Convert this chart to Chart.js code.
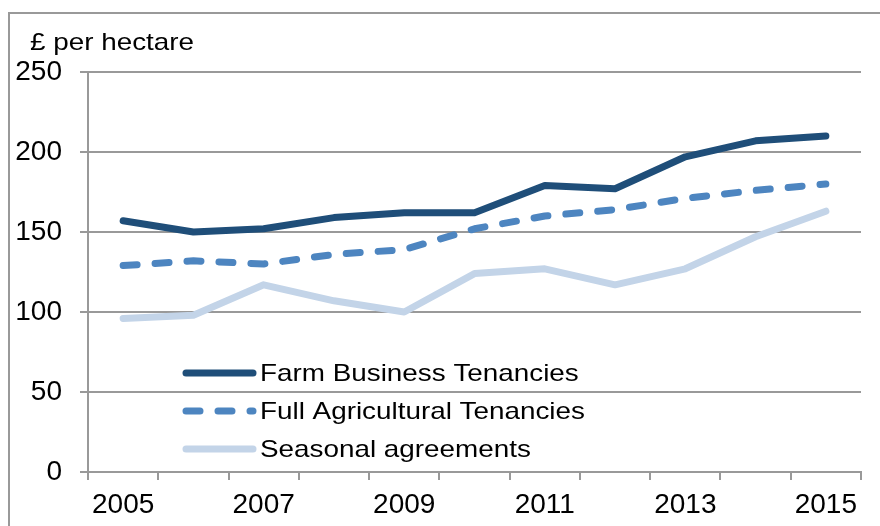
<!DOCTYPE html>
<html>
<head>
<meta charset="utf-8">
<script src="https://cdn.jsdelivr.net/npm/chart.js@4"></script>
<style>
  html, body { margin: 0; padding: 0; background: #fff; }
  #wrap { position: relative; width: 880px; height: 526px; overflow: hidden; }
  #frame { position: absolute; left: 8px; top: 12px; width: 900px; height: 600px;
           border-top: 2px solid #999; border-left: 2px solid #999; }
  #c { position: absolute; left: 0; top: 0; }
</style>
</head>
<body>
<div id="wrap">
  <div id="frame"></div>
  <canvas id="c" width="880" height="526"></canvas>
</div>
<script>
// years on the x axis (only every other one gets a label)
const years = ["2005","2006","2007","2008","2009","2010","2011","2012","2013","2014","2015"]

// £ per hectare
const farm_business = [157, 150, 152, 159, 162, 162, 179, 177, 197, 207, 210]
const full_agricultural = [129, 132, 130, 136, 139, 152, 160, 164, 171, 176, 180]
const seasonal = [96, 98, 117, 107, 100, 124, 127, 117, 127, 147, 163]

const series_names = ["Farm Business Tenancies", "Full Agricultural Tenancies", "Seasonal agreements"]
const y_ticks = [0, 50, 100, 150, 200, 250]

const font_name = "'Liberation Sans', Arial, sans-serif"
const grid_col = "#999999"

// text in the source is a bit wider than normal Arial
function wide_text(ctx, txt, x, y, stretch){
    ctx.save()
    ctx.translate(x, y)
    ctx.scale(stretch, 1)
    ctx.fillText(txt, 0, 0)
    ctx.restore()
}

// draws the "£ per hectare" unit and the in-plot legend
const extras = {
    id: "extras",
    afterDraw(chart){
        const ctx = chart.ctx
        ctx.save()
        ctx.fillStyle = "#000"
        ctx.font = "24px " + font_name
        ctx.textBaseline = "middle"
        ctx.textAlign = "left"
        wide_text(ctx, "£ per hectare", 30, 43, 1.16)

        let rows = [373, 411, 449]
        chart.data.datasets.forEach(function(ds, i){
            let y = rows[i]
            ctx.beginPath()
            ctx.strokeStyle = ds.borderColor
            ctx.lineWidth = ds.borderWidth
            ctx.lineCap = "round"
            ctx.setLineDash(ds.borderDash || [])
            ctx.moveTo(186, y)
            ctx.lineTo(253, y)
            ctx.stroke()
            ctx.setLineDash([])
            ctx.fillStyle = "#000"
            ctx.font = "24px " + font_name
            wide_text(ctx, ds.label, 260, y + 1, 1.16)
        })
        ctx.restore()
    }
}

const chart = new Chart(document.getElementById("c").getContext("2d"), {
    type: "line",
    data: {
        labels: years,
        datasets: [
            {label: series_names[0], data: farm_business, borderColor: "#1F4E79", borderWidth: 7},
            {label: series_names[1], data: full_agricultural, borderColor: "#4D85C0", borderWidth: 7, borderDash: [14, 18]},
            {label: series_names[2], data: seasonal, borderColor: "#C3D4E8", borderWidth: 7}
        ]
    },
    options: {
        responsive: false,
        animation: false,
        maintainAspectRatio: false,
        layout: {padding: {top: 72, right: 19, bottom: 0, left: 0}},
        elements: {
            point: {radius: 0},
            line: {tension: 0, borderCapStyle: "round", borderJoinStyle: "round"}
        },
        plugins: {legend: {display: false}, tooltip: {enabled: false}},
        scales: {
            x: {
                offset: true,
                afterFit(s){ s.height = 54 },
                grid: {offset: true, drawOnChartArea: false, color: grid_col, lineWidth: 2, tickLength: 8},
                border: {color: grid_col, width: 2},
                ticks: {
                    autoSkip: false, maxRotation: 0, padding: 8,
                    color: "#000", font: {family: font_name, size: 28},
                    callback: function(v, i){ return i % 2 === 0 ? years[i] : "" }
                }
            },
            y: {
                min: y_ticks[0], max: y_ticks[y_ticks.length-1],
                afterFit(s){ s.width = 88 },
                afterBuildTicks(s){ s.ticks = y_ticks.map(v => ({value: v})) },
                grid: {color: grid_col, lineWidth: 2, tickLength: 8},
                border: {color: grid_col, width: 2},
                ticks: {padding: 18, color: "#000", font: {family: font_name, size: 28}}
            }
        }
    },
    plugins: [extras]
})
</script>
</body>
</html>
